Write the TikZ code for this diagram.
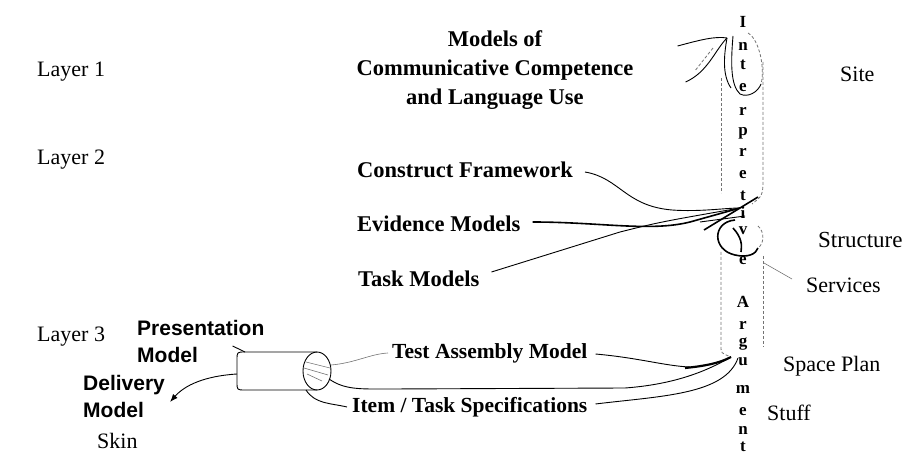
\documentclass[tikz,border=0pt]{standalone}
\usepackage{fontspec}
\setmainfont{Liberation Serif}
\setsansfont{Liberation Sans}
\usetikzlibrary{calc}
\usetikzlibrary{arrows.meta}

\begin{document}
\begin{tikzpicture}[x=1pt, y=-1pt,
    layerlbl/.style={font=\fontsize{22}{26}\selectfont, inner sep=0pt, anchor=west},
    boldlbl/.style={font=\bfseries\fontsize{22.5}{29}\selectfont, inner sep=0pt, anchor=west},
    preslbl/.style={font=\sffamily\bfseries\fontsize{21}{27}\selectfont, inner sep=0pt, anchor=west, align=left},
    vletter/.style={font=\bfseries\fontsize{17}{17}\selectfont, inner sep=0pt},
    wire/.style={black, line width=1.6pt},
    line/.style={black, line width=0.9pt},
    faint/.style={black!55, line width=0.6pt},
    shell/.style={black!55, densely dashed, line width=0.8pt}]

    \useasboundingbox (0, 0) rectangle (906, 457);

    \node[layerlbl] (L1) at (37, 72) {Layer 1};
    \node[layerlbl] (L2) at (37, 160) {Layer 2};
    \node[layerlbl] (L3) at (37, 337) {Layer 3};

    \node[boldlbl, anchor=center, align=center] (comm) at (495, 70) {Models of\\Communicative Competence\\and Language Use};
    \node[boldlbl] (constr) at (357, 170) {Construct Framework};
    \node[boldlbl] (evid) at (357, 224) {Evidence Models};
    \node[boldlbl] (task) at (358, 279) {Task Models};
    \node[boldlbl, font=\bfseries\fontsize{21.5}{26}\selectfont] (tam) at (392, 353) {Test Assembly Model};
    \node[boldlbl, font=\bfseries\fontsize{21.5}{26}\selectfont] (item) at (352, 407) {Item / Task Specifications};

    \node[preslbl] (pres) at (137, 341) {Presentation\\Model};
    \node[preslbl] (deliv) at (83, 396) {Delivery\\Model};
    \node[layerlbl] (skin) at (97, 441) {Skin};

    \node[layerlbl] (site) at (840, 74) {Site};
    \node[layerlbl, font=\fontsize{23}{26}\selectfont] (struct) at (818, 240) {Structure};
    \node[layerlbl] (serv) at (806, 285) {Services};
    \node[layerlbl] (splan) at (783, 366) {Space Plan};
    \node[layerlbl] (stuff) at (767, 413) {Stuff};

    \foreach \c/\y [count=\i] in {I/22, n/46, t/65, e/88, r/111, p/133, r/152, e/175, t/196, i/213, v/231, e/261}
        \node[vletter] (int\i) at (743, \y) {\c};
    \foreach \c/\y [count=\i] in {A/302, r/325, g/344, u/362, m/389, e/412, n/430, t/447}
        \node[vletter] (arg\i) at (743, \y) {\c};

    % tall shell
    \coordinate (apex) at (727, 38);
    \coordinate (hub) at (740, 208);
    \coordinate (foot) at (731, 357);
    \draw[shell] (721, 78) -- (721, 193);
    \draw[shell] (763, 62) -- (763, 186) .. controls (762, 196) .. (752, 204);
    \draw[shell] (721, 252) -- (721, 347) .. controls (721, 353) .. (foot);
    \draw[shell] (763, 256) -- (763, 347);
    \draw[line] (733, 36) .. controls (731, 60) and (730, 85) .. (740, 94) .. controls (748, 98) and (758, 92) .. (761, 84);
    \draw[shell] (748, 33) .. controls (760, 40) and (765, 70) .. (761, 84);
    \draw[wire] (735, 220) .. controls (712, 222) and (712, 250) .. (735, 255) .. controls (748, 258) and (756, 254) .. (758, 248);
    \draw[shell] (758, 226) .. controls (765, 232) and (764, 244) .. (758, 248);

    % layer 1 links
    \draw[line] ($(comm.east)+(44, -24)$) .. controls (700, 40) and (715, 36) .. (apex);
    \draw[line] ($(comm.east)+(52, 12)$) .. controls (708, 72) and (715, 50) .. (apex);
    \draw[shell] ($(comm.east)+(62, 0)$) -- (713, 48);
    \draw[line] (apex) .. controls (724, 55) and (722, 75) .. (731, 88);

    % layer 2 links
    \draw[line] ($(constr.east)+(12, 2)$) .. controls (620, 178) and (625, 206) .. (672, 210) .. controls (700, 212) and (725, 208) .. (hub);
    \draw[wire] ($(evid.east)+(12, -2)$) .. controls (600, 222) and (650, 232) .. (690, 222) -- (hub);
    \draw[line] ($(task.east)+(12, -7)$) -- (620, 232) .. controls (660, 222) .. (hub);
    \draw[wire] (704, 230) -- (758, 197);
    \draw[line] (700, 222) -- (745, 216);
    \draw[wire] (733, 228) .. controls (742, 238) and (742, 245) .. (741, 252);
    \draw[faint] (764, 263) -- ($(serv.west)+(-14, -6)$);

    % layer 3 cylinder
    \coordinate (cylA) at (317, 352);
    \coordinate (cylB) at (317, 390);
    \draw[line] (cylA) -- (245, 352) .. controls (237, 352) .. (237, 360) -- (237, 382) .. controls (237, 390) .. (245, 390) -- (cylB);
    \draw[line] (317, 371) ellipse (14 and 19);
    \draw[faint] (306, 362) -- (330, 368);
    \draw[faint] (304, 368) -- (328, 375);
    \draw[faint] (307, 374) -- (322, 381);

    \draw[line] ($(pres.east)+(-32, 5)$) -- (245, 352);
    \draw[line, -{Latex[length=8pt]}] (237, 374) .. controls (205, 376) and (185, 385) .. (170, 402);
    \draw[faint] (331, 365) .. controls (355, 363) and (370, 354) .. ($(tam.west)+(-4, 0)$);
    \draw[line] ($(tam.east)+(8, 1)$) .. controls (640, 358) and (665, 366) .. (690, 367);
    \draw[wire, line width=2.2pt] (685, 368) .. controls (705, 366) and (720, 363) .. (foot);
    \draw[line] (329, 379) .. controls (345, 390) and (360, 389) .. (390, 389) -- (625, 388) .. controls (680, 384) and (712, 368) .. (foot);
    \draw[line] (306, 390) .. controls (315, 404) and (330, 403) .. ($(item.west)+(-5, 0)$);
    \draw[line] ($(item.east)+(8, -3)$) .. controls (660, 396) and (725, 395) .. (738, 358);

\end{tikzpicture}
\end{document}
